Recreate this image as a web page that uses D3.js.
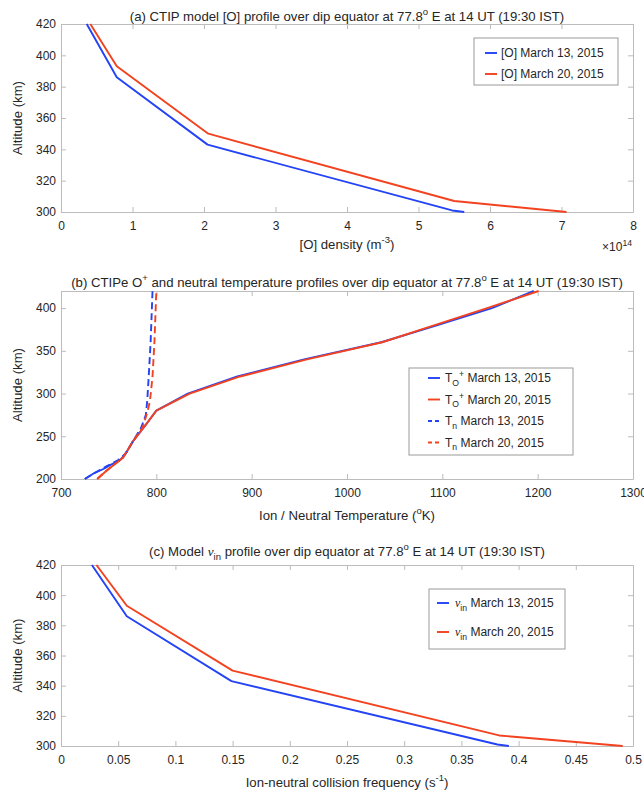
<!DOCTYPE html>
<html>
<head>
<meta charset="utf-8">
<script src="https://cdn.jsdelivr.net/npm/d3@7"></script>
<style>
  body { margin: 0; background: #fff; }
  svg { display: block; }
  text { font-family: "Liberation Sans", Arial, Helvetica, sans-serif; fill: #262626; }
</style>
</head>
<body>
<svg id="chart" width="644" height="792"></svg>
<script>
// ---- Panel (a): CTIP atomic oxygen density, in units of 1e14 m^-3 ----
const oAltMar13  = [420, 386, 343, 301, 300];
const oDensMar13 = [0.36, 0.78, 2.05, 5.47, 5.64];
const oAltMar20  = [420, 393, 350, 307, 300];
const oDensMar20 = [0.41, 0.78, 2.06, 5.50, 7.07];
const oXTicks = [0, 1, 2, 3, 4, 5, 6, 7, 8];
const altTicks = [300, 320, 340, 360, 380, 400, 420];

// ---- Panel (b): CTIPe O+ (solid) and neutral (dashed) temperatures, K ----
const tiAltMar13 = [200, 207, 212, 216, 222, 230, 245, 262, 280, 300, 320, 340, 360, 380, 400, 420];
const tiMar13    = [725, 735, 745, 751, 762, 768, 776, 788, 800, 833, 885, 955, 1036, 1095, 1152, 1196];
const tiAltMar20 = [200, 210, 225, 245, 262, 280, 300, 320, 340, 360, 380, 400, 420];
const tiMar20    = [738, 748, 765, 776, 788, 800, 835, 888, 958, 1037, 1092, 1147, 1201];
const tnAltMar13 = [200, 207, 215, 222, 230, 245, 260, 275, 292, 320, 360, 420];
const tnMar13    = [725, 735, 748, 760, 768, 776, 784, 789, 790.5, 792, 794, 796];
const tnAltMar20 = [200, 210, 225, 245, 261, 280, 292, 320, 360, 420];
const tnMar20    = [738, 748, 765, 776, 786, 791, 793.4, 796, 798, 800];
const tXTicks = [700, 800, 900, 1000, 1100, 1200, 1300];
const tYTicks = [200, 250, 300, 350, 400];

// ---- Panel (c): ion-neutral collision frequency, s^-1 ----
const nuAltMar13 = [420, 386, 343, 301, 300];
const nuMar13    = [0.027, 0.0575, 0.149, 0.3815, 0.3915];
const nuAltMar20 = [420, 393, 350, 307, 300];
const nuMar20    = [0.031, 0.0575, 0.150, 0.383, 0.491];
const nuXTicks = [0, 0.05, 0.1, 0.15, 0.2, 0.25, 0.3, 0.35, 0.4, 0.45, 0.5];

const BLUE = "#2343f5";
const RED = "#f3421f";
const AXIS = "#bcbcbc";
const TICK_FS = 12;     // tick labels
const LABEL_FS = 13.2;  // titles and axis labels
const LEG_FS = 12;      // legend entries

const svg = d3.select("#chart");

// Rich text: parts are {t, pos: 'sup'|'sub'|undefined, italic, serif}
function rich(sel, parts, size) {
  let shift = 0;
  parts.forEach(p => {
    const target = p.pos === "sup" ? -size * 0.42 : p.pos === "sub" ? size * 0.3 : 0;
    const ts = sel.append("tspan").text(p.t);
    const dy = target - shift;
    if (dy !== 0) ts.attr("dy", dy);
    shift = target;
    if (p.pos) ts.attr("font-size", size * 0.72);
    if (p.italic) ts.attr("font-style", "italic");
    if (p.serif) ts.attr("font-family", "'Liberation Serif', 'DejaVu Serif', serif");
  });
  return sel;
}

function panel(cfg) {
  const { left, right, top, bottom } = cfg.box;
  const x = d3.scaleLinear().domain(cfg.xDomain).range([left, right]);
  const y = d3.scaleLinear().domain(cfg.yDomain).range([bottom, top]);
  const g = svg.append("g");

  const clipId = "clip-" + cfg.id;
  g.append("clipPath").attr("id", clipId)
    .append("rect").attr("x", left).attr("y", top - 1)
    .attr("width", right - left).attr("height", bottom - top + 2);

  const style = ax => {
    ax.selectAll("path.domain").attr("stroke", AXIS).attr("stroke-width", 1);
    ax.selectAll(".tick line").attr("stroke", AXIS).attr("stroke-width", 1);
    ax.selectAll(".tick text").attr("fill", "#262626").attr("font-size", TICK_FS)
      .attr("font-family", "'Liberation Sans', Arial, sans-serif");
  };

  const fmt = cfg.xFormat || (d => String(d));
  g.append("g").attr("transform", `translate(0,${bottom})`)
    .call(d3.axisBottom(x).tickValues(cfg.xTicks).tickFormat(fmt)
      .tickSizeInner(-5).tickSizeOuter(0).tickPadding(9))
    .call(style);
  g.append("g").attr("transform", `translate(0,${top})`)
    .call(d3.axisTop(x).tickValues(cfg.xTicks).tickFormat("")
      .tickSizeInner(-5).tickSizeOuter(0))
    .call(style);
  g.append("g").attr("transform", `translate(${left},0)`)
    .call(d3.axisLeft(y).tickValues(cfg.yTicks)
      .tickSizeInner(-5).tickSizeOuter(0).tickPadding(5))
    .call(style);
  g.append("g").attr("transform", `translate(${right},0)`)
    .call(d3.axisRight(y).tickValues(cfg.yTicks).tickFormat("")
      .tickSizeInner(-5).tickSizeOuter(0))
    .call(style);

  const line = d3.line().x(d => x(d[0])).y(d => y(d[1]));
  const plot = g.append("g").attr("clip-path", `url(#${clipId})`);
  cfg.series.forEach(s => {
    plot.append("path")
      .datum(s.vals.map((v, i) => [v, s.alts[i]]))
      .attr("fill", "none")
      .attr("stroke", s.color)
      .attr("stroke-width", 1.9)
      .attr("stroke-linejoin", "round")
      .attr("stroke-dasharray", s.dash ? "7,4" : null)
      .attr("d", line);
  });

  // title
  rich(g.append("text").attr("x", (left + right) / 2).attr("y", cfg.titleY)
    .attr("text-anchor", "middle").attr("font-size", LABEL_FS), cfg.title, LABEL_FS);
  // x label
  rich(g.append("text").attr("x", (left + right) / 2).attr("y", cfg.xLabelY)
    .attr("text-anchor", "middle").attr("font-size", LABEL_FS), cfg.xLabel, LABEL_FS);
  // y label
  g.append("text").attr("transform", `translate(17,${(top + bottom) / 2}) rotate(-90)`)
    .attr("text-anchor", "middle").attr("dy", "0.35em").attr("font-size", LABEL_FS)
    .text("Altitude (km)");

  // legend
  const L = cfg.legend;
  g.append("rect").attr("x", L.x).attr("y", L.y).attr("width", L.w).attr("height", L.h)
    .attr("fill", "#fff").attr("stroke", "#9a9a9a").attr("stroke-width", 1);
  cfg.series.forEach((s, i) => {
    const cy = L.y + L.first + i * L.step;
    g.append("line").attr("x1", L.x + L.lineX).attr("x2", L.x + L.lineX + 12)
      .attr("y1", cy).attr("y2", cy).attr("stroke", s.color).attr("stroke-width", 1.9)
      .attr("stroke-dasharray", s.dash ? "4,3" : null);
    rich(g.append("text").attr("x", L.x + L.textX).attr("y", cy).attr("dy", "0.35em")
      .attr("font-size", LEG_FS), s.label, LEG_FS);
  });
  return { x, y, g };
}

const sup = t => ({ t, pos: "sup" });
const sub = t => ({ t, pos: "sub" });
const txt = t => ({ t });
const nu = { t: "\u03bd", italic: true, serif: true };

// (a)
const pa = panel({
  id: "a",
  box: { left: 61, right: 633, top: 24, bottom: 212 },
  xDomain: [0, 8], yDomain: [300, 420],
  xTicks: oXTicks, yTicks: altTicks,
  titleY: 21,
  xLabelY: 249,
  title: [txt("(a) CTIP model [O] profile over dip equator at 77.8"), sup("o"), txt(" E at 14 UT (19:30 IST)")],
  xLabel: [txt("[O] density (m"), sup("-3"), txt(")")],
  series: [
    { alts: oAltMar13, vals: oDensMar13, color: BLUE, label: [txt("[O] March 13, 2015")] },
    { alts: oAltMar20, vals: oDensMar20, color: RED, label: [txt("[O] March 20, 2015")] }
  ],
  legend: { x: 474, y: 38, w: 144, h: 47, first: 15, step: 21, lineX: 11, textX: 27 }
});
rich(pa.g.append("text").attr("x", 632).attr("y", 251).attr("text-anchor", "end")
  .attr("font-size", TICK_FS), [txt("\u00d710"), sup("14")], TICK_FS);

// (b)
panel({
  id: "b",
  box: { left: 61, right: 633, top: 291, bottom: 479 },
  xDomain: [700, 1300], yDomain: [200, 420],
  xTicks: tXTicks, yTicks: tYTicks,
  titleY: 287,
  xLabelY: 520,
  title: [txt("(b) CTIPe O"), sup("+"), txt(" and neutral temperature profiles over dip equator at 77.8"), sup("o"), txt(" E at 14 UT (19:30 IST)")],
  xLabel: [txt("Ion / Neutral Temperature ("), sup("o"), txt("K)")],
  series: [
    { alts: tiAltMar13, vals: tiMar13, color: BLUE, label: [txt("T"), sub("O"), sup("+"), txt(" March 13, 2015")] },
    { alts: tiAltMar20, vals: tiMar20, color: RED, label: [txt("T"), sub("O"), sup("+"), txt(" March 20, 2015")] },
    { alts: tnAltMar13, vals: tnMar13, color: BLUE, dash: true, label: [txt("T"), sub("n"), txt("  March 13, 2015")] },
    { alts: tnAltMar20, vals: tnMar20, color: RED, dash: true, label: [txt("T"), sub("n"), txt("  March 20, 2015")] }
  ],
  legend: { x: 409, y: 368, w: 164, h: 87, first: 10, step: 21.5, lineX: 19, textX: 36 }
});

// (c)
panel({
  id: "c",
  box: { left: 61, right: 633, top: 565, bottom: 746 },
  xDomain: [0, 0.5], yDomain: [300, 420],
  xTicks: nuXTicks, yTicks: altTicks,
  xFormat: d => String(+d.toFixed(2)),
  titleY: 556,
  xLabelY: 787,
  title: [txt("(c) Model "), nu, sub("in"), txt(" profile over dip equator at 77.8"), sup("o"), txt(" E at 14 UT (19:30 IST)")],
  xLabel: [txt("Ion-neutral collision frequency (s"), sup("-1"), txt(")")],
  series: [
    { alts: nuAltMar13, vals: nuMar13, color: BLUE, label: [nu, sub("in"), txt(" March 13, 2015")] },
    { alts: nuAltMar20, vals: nuMar20, color: RED, label: [nu, sub("in"), txt(" March 20, 2015")] }
  ],
  legend: { x: 429, y: 589, w: 136, h: 60, first: 14, step: 29, lineX: 8, textX: 26 }
});
</script>
</body>
</html>
